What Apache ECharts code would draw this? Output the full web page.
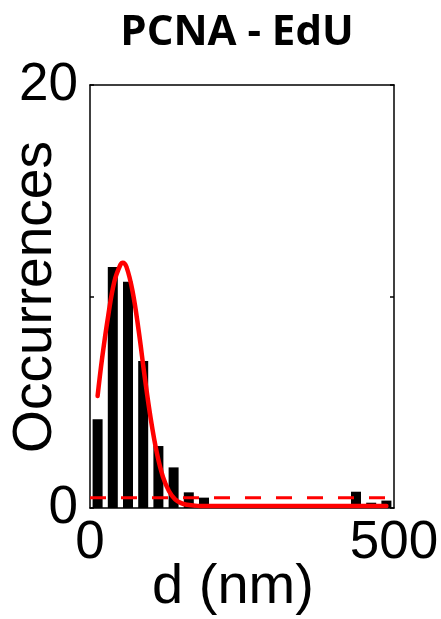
<!DOCTYPE html>
<html>
<head>
<meta charset="utf-8">
<script src="https://cdn.jsdelivr.net/npm/echarts@6/dist/echarts.min.js"></script>
<style>
html, body { margin: 0; padding: 0; background: #fff; }
#chart { width: 441px; height: 619px; }
</style>
</head>
<body>
<div id="chart"></div>
<script>
// histogram, 25 nm bins
var binCenters = [12.5, 37.5, 62.5, 87.5, 112.5, 137.5, 162.5, 187.5, 212.5, 237.5,
                  262.5, 287.5, 312.5, 337.5, 362.5, 387.5, 412.5, 437.5, 462.5, 487.5];
var counts = [4.2, 11.4, 10.7, 6.95, 2.93, 1.92, 0.74, 0.49, 0, 0,
              0, 0, 0, 0, 0, 0, 0, 0.77, 0.25, 0.35];

// fitted curve
var fitX = [12.5, 20, 30, 40, 50, 54, 60, 70, 80, 90, 100, 110, 120, 130, 140, 150, 160, 170, 180, 200, 250, 300, 350, 400, 450, 487.5];
var fitY = [5.3, 7.1, 9.1, 10.7, 11.5, 11.6, 11.4, 10.25, 8.4, 6.2, 4.2, 2.6, 1.47, 0.79, 0.41, 0.23, 0.15, 0.12, 0.1, 0.1, 0.1, 0.1, 0.1, 0.1, 0.1, 0.1];

// dashed threshold
var threshX = [0, 500];
var threshY = [0.49, 0.49];

var xTicks = [0, 500];
var yTicks = [0, 20];

var chart = echarts.init(document.getElementById('chart'));

var barData = [];
for (var i = 0; i < binCenters.length; i++) {
	barData.push([binCenters[i], counts[i]]);
}
var fitData = [];
for (var j = 0; j < fitX.length; j++) {
	fitData.push([fitX[j], fitY[j]]);
}
var threshData = [];
for (var k = 0; k < threshX.length; k++) {
	threshData.push([threshX[k], threshY[k]]);
}

var bigFont = 'Liberation Sans, Arial, sans-serif';
var frame = { show: true, onZero: false, lineStyle: { color: '#000', width: 1.5 } };

var option = {
	animation: false,
	backgroundColor: '#fff',
	title: {
		text: 'PCNA - EdU',
		left: 232,
		textAlign: 'center',
		top: 7,
		textStyle: { fontFamily: 'Open Sans', fontWeight: 'bold', fontSize: 42, color: '#000' }
	},
	grid: { left: 90, top: 85, width: 304, height: 423, outerBoundsMode: 'none', containLabel: false },
	xAxis: [{
		type: 'value', min: 0, max: 500, interval: 500,
		axisLine: frame,
		axisTick: { show: false },
		splitLine: { show: false },
		axisLabel: {
			fontFamily: bigFont, fontSize: 53, color: '#000', margin: 9,
			formatter: function (v) { return xTicks.indexOf(v) >= 0 ? String(v) : ''; }
		}
	}, {
		type: 'value', min: 0, max: 500, position: 'top',
		axisLine: frame,
		axisTick: { show: false }, axisLabel: { show: false }, splitLine: { show: false }
	}],
	yAxis: [{
		type: 'value', min: 0, max: 20, interval: 10,
		axisLine: frame,
		axisTick: { show: true, inside: true, length: 4, lineStyle: { color: '#000', width: 1.5 } },
		splitLine: { show: false },
		axisLabel: {
			fontFamily: bigFont, fontSize: 53, color: '#000', margin: 12,
			formatter: function (v) { return yTicks.indexOf(v) >= 0 ? String(v) : ''; }
		}
	}, {
		type: 'value', min: 0, max: 20, interval: 10, position: 'right',
		axisLine: frame,
		axisTick: { show: true, inside: true, length: 4, lineStyle: { color: '#000', width: 1.5 } },
		axisLabel: { show: false }, splitLine: { show: false }
	}],
	graphic: [{
		type: 'text',
		x: 233, y: 560,
		style: { text: 'd (nm)', fontFamily: bigFont, fontSize: 56, fill: '#000', textAlign: 'center', textVerticalAlign: 'top' }
	}, {
		type: 'text',
		x: 36, y: 297,
		rotation: Math.PI / 2,
		style: { text: 'Occurrences', fontFamily: bigFont, fontSize: 55, fill: '#000', textAlign: 'center', textVerticalAlign: 'middle' }
	}],
	series: [{
		type: 'bar',
		data: barData,
		barWidth: 10,
		itemStyle: { color: '#000' },
		z: 2
	}, {
		type: 'line',
		data: fitData,
		smooth: 0.4,
		showSymbol: false,
		lineStyle: { color: '#ff0000', width: 4.5, cap: 'round' },
		z: 3
	}, {
		type: 'line',
		data: threshData,
		showSymbol: false,
		lineStyle: { color: '#ff0000', width: 3, type: [16, 15] },
		z: 4
	}]
};

chart.setOption(option);
</script>
</body>
</html>
